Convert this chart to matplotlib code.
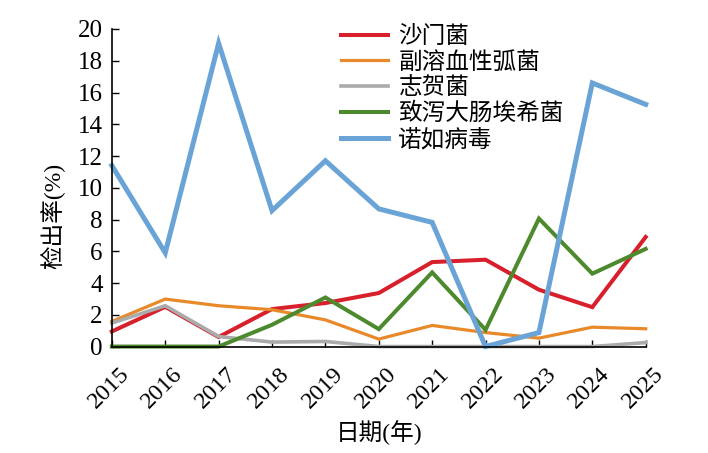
import numpy as np
import matplotlib
matplotlib.use("Agg")
import matplotlib.pyplot as plt
import matplotlib.transforms as mtransforms

plt.rcParams['font.family'] = ['Liberation Serif', 'Noto Sans CJK SC']

# 数据
years = [2015, 2016, 2017, 2018, 2019, 2020, 2021, 2022, 2023, 2024, 2025]
salmonella = [0.95, 2.5, 0.6, 2.36, 2.74, 3.37, 5.32, 5.47, 3.58, 2.48, 6.9]
vibrio = [1.58, 2.99, 2.57, 2.32, 1.68, 0.47, 1.33, 0.88, 0.53, 1.22, 1.12]
shigella = [1.48, 2.57, 0.63, 0.28, 0.32, 0.0, 0.0, 0.0, 0.0, 0.0, 0.25]
ecoli = [0.0, 0.0, 0.0, 1.37, 3.09, 1.1, 4.67, 1.05, 8.06, 4.59, 6.15]
norovirus = [11.4, 5.9, 19.1, 8.56, 11.7, 8.67, 7.82, 0.0, 0.88, 16.6, 15.25]

labels = ['沙门菌', '副溶血性弧菌', '志贺菌', '致泻大肠埃希菌', '诺如病毒']
colors = ['#d7202b', '#e8892a', '#ababab', '#4d8a2e', '#6aa4d7']
series = [salmonella, vibrio, shigella, ecoli, norovirus]
widths = [2.9, 2.3, 2.6, 2.9, 3.6]

fig = plt.figure(figsize=(7.08, 4.53), dpi=100)
ax = fig.add_axes([0.158, 0.235, 0.754, 0.701])

for s, lab, c, w in zip(series, labels, colors, widths):
    ax.plot(years, s, color=c, lw=w, label=lab, clip_on=False, solid_joinstyle='miter')

ax.set_xlim(2015, 2025)
ax.set_ylim(0, 20)
ax.set_yticks(np.arange(0, 21, 2))
ax.set_xticks(years)
ax.set_xticklabels([str(y) for y in years], rotation=45, ha='right', va='top',
                   rotation_mode='anchor', fontsize=17.5)
ax.tick_params(direction='in', length=5, width=1)
ax.tick_params(axis='y', pad=6.5, labelsize=18)
ax.tick_params(axis='x', pad=4)
# 年份标签往右下移一点
offset = mtransforms.ScaledTranslation(0.07, -0.11, fig.dpi_scale_trans)
for lbl in ax.get_xticklabels():
    lbl.set_transform(lbl.get_transform() + offset)

for sp in ['top', 'right']:
    ax.spines[sp].set_visible(False)
for sp in ['left', 'bottom']:
    ax.spines[sp].set_linewidth(1.2)

ax.set_ylabel('检出率(%)', fontsize=17)
ax.yaxis.set_label_coords(-0.087, 0.41)
ax.set_xlabel('日期(年)', fontsize=17)
ax.xaxis.set_label_coords(0.5, -0.27)
ax.xaxis.label.set_va('center')

fig.legend(loc='upper left', bbox_to_anchor=(0.481, 0.942), frameon=False,
           fontsize=17, handlelength=2.0, handletextpad=0.45, labelspacing=0.15,
           borderpad=0, borderaxespad=0)

fig.savefig('out.png', dpi=100)
